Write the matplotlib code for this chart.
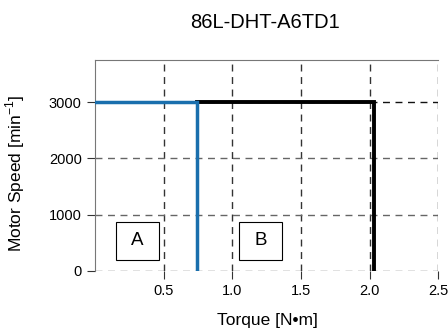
import matplotlib
matplotlib.use('Agg')
import matplotlib.pyplot as plt
from matplotlib.patches import Rectangle

plt.rcParams['font.family'] = ['Liberation Sans', 'DejaVu Sans']

# data
a_torque = [0.0, 0.74, 0.74]
a_speed = [3000, 3000, 0]
b_torque = [0.74, 2.03, 2.03]
b_speed = [3000, 3000, 0]
x_ticks = [0.5, 1.0, 1.5, 2.0, 2.5]
y_ticks = [0, 1000, 2000, 3000]
region_labels = ['A', 'B']
label_x = [0.31, 1.205]
label_y = [530, 530]

fig = plt.figure(figsize=(4.48, 3.34), dpi=100)
ax = fig.add_axes([0.212, 0.1895, 0.766, 0.6305])

ax.set_xlim(0, 2.5)
ax.set_ylim(0, 3750)

# dashed grid
for x in x_ticks:
    ax.axvline(x, color='#333333', ls=(0, (5, 4)), lw=1, zorder=1)
for y in y_ticks:
    c = '#111111' if y == 3000 else '#666666'
    ax.axhline(y, color=c, ls=(0, (5, 4)), lw=1, zorder=1)

ax.plot(b_torque, b_speed, color='black', lw=2.8, zorder=3, solid_joinstyle='miter')
ax.plot(a_torque, a_speed, color='#1a6fad', lw=2.5, zorder=4, solid_joinstyle='miter')

# region boxes
box_w = 0.315
box_h = 680
for lab, x, y in zip(region_labels, label_x, label_y):
    ax.add_patch(Rectangle((x - box_w / 2, y - box_h / 2), box_w, box_h,
                           fc='white', ec='black', lw=0.8, zorder=5))
    ax.text(x, y, lab, fontsize=13.5, ha='center', va='center', zorder=6)

ax.spines['bottom'].set_visible(False)
ax.spines['right'].set_visible(False)
ax.spines['left'].set_color('#777777')
ax.spines['top'].set_color('#777777')

ax.set_xticks(x_ticks)
ax.set_xticklabels(['0.5', '1.0', '1.5', '2.0', '2.5'])
ax.set_yticks(y_ticks)
ax.tick_params(axis='both', labelsize=10.5, length=5.5, color='#333333')
ax.tick_params(axis='x', pad=4)
ax.tick_params(axis='y', pad=4)

ax.set_xlabel('Torque [N\u2022m]', fontsize=12.5)
ax.xaxis.set_label_coords(0.504, -0.2)
ax.set_ylabel(r'Motor Speed [min$^{\mathregular{-1}}$]', fontsize=12.5)
ax.yaxis.set_label_coords(-0.198, 0.46)

fig.text(265 / 448, 0.934, '86L-DHT-A6TD1', fontsize=14.5, ha='center', va='center')

fig.savefig('out.png', dpi=100)
